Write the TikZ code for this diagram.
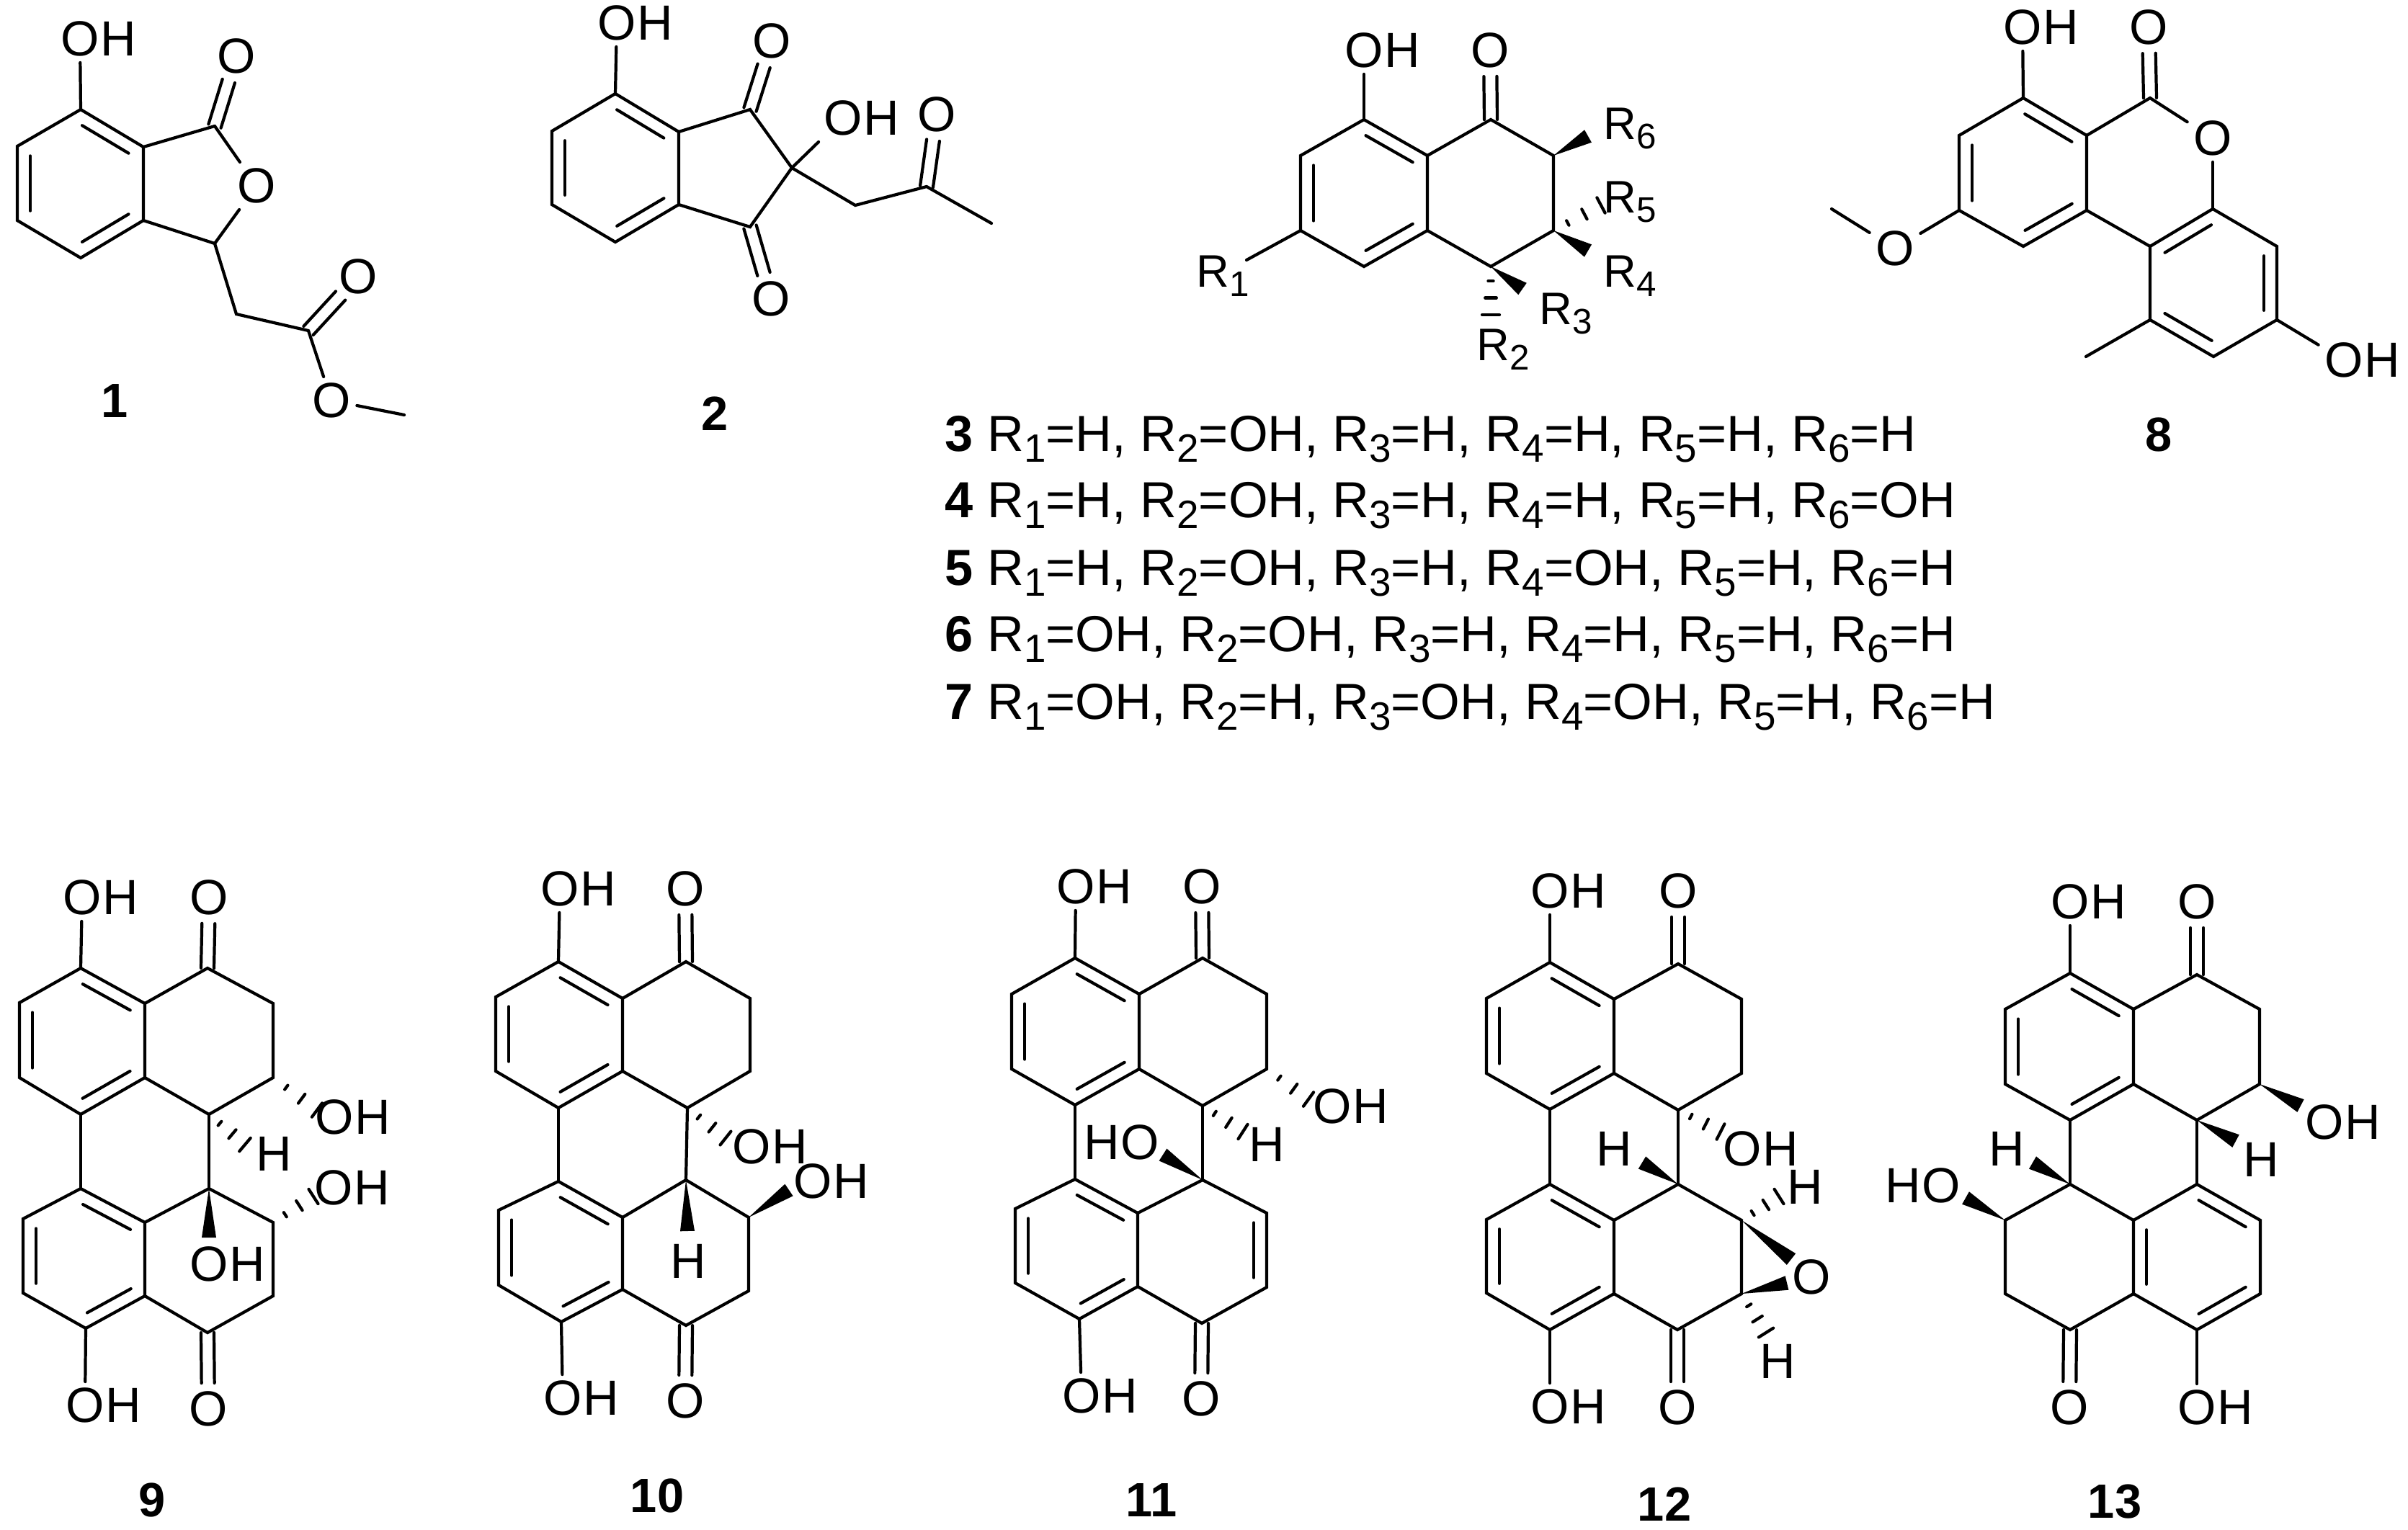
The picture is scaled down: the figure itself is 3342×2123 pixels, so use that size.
\documentclass[tikz,border=0pt]{standalone}
\usepackage{fontspec}
\setmainfont{Liberation Sans}
\usetikzlibrary{calc}

% inner line of a ring double bond, on the left of a->b
\newcommand{\inbond}[2]{\draw[bond] ($(#1)!0.13!(#2)!0.18cm!90:(#2)$) -- ($(#1)!0.87!(#2)!0.18cm!90:(#2)$);}
\newcommand{\oxobond}[2]{\draw[bond, shorten >=0.36cm] ($(#1)!0.09cm!90:(#2)$) -- ($(#2)!0.09cm!-90:(#1)$);
  \draw[bond, shorten >=0.36cm] ($(#1)!0.09cm!-90:(#2)$) -- ($(#2)!0.09cm!90:(#1)$);}
\newcommand{\wedgebond}[2]{\fill (#1) -- ($(#2)!0.1cm!90:(#1)$) -- ($(#2)!0.1cm!-90:(#1)$) -- cycle;}
\newcommand{\hashbond}[2]{\foreach \t in {0.3,0.65,1}
  \draw[bond] ($(#1)!\t!(#2)!\t*0.12cm!90:(#1)$) -- ($(#1)!\t!(#2)!\t*0.12cm!-90:(#1)$);}
\newcommand{\rsub}[1]{R\raisebox{-0.22em}{\scalebox{0.78}{#1}}}
% carbon frame shared by 9--13
\newcommand{\tetracycle}[1]{
  \draw[bond] (#1a) -- (#1b) -- (#1c) -- (#1d) -- (#1e) -- (#1f) -- cycle;
  \draw[bond] (#1f) -- (#1g) -- (#1h) -- (#1i) -- (#1j) -- (#1e);
  \draw[bond] (#1d) -- (#1r);
  \draw[bond] (#1j) -- (#1k);
  \draw[bond] (#1r) -- (#1s) -- (#1t) -- (#1u) -- (#1p) -- (#1q) -- cycle;
  \draw[bond] (#1q) -- (#1k) -- (#1l) -- (#1m) -- (#1n) -- (#1p);
  \inbond{#1f}{#1a}
  \inbond{#1b}{#1c}
  \inbond{#1d}{#1e}
}

\begin{document}
\begin{tikzpicture}[
    x=0.01cm, y=-0.01cm,
    bond/.style={line width=1.2pt, line cap=round},
    atom/.style={inner sep=0.08cm, font=\fontsize{19.5}{21}\selectfont},
    oh/.style={atom, label={[atom, xshift=-0.16cm]east:H}},
    ho/.style={atom, label={[atom, xshift=0.16cm]west:H}},
    rgroup/.style={inner sep=0pt, anchor=base west, font=\fontsize{18}{20}\selectfont},
    subst/.style={inner sep=0pt, anchor=base west, font=\fontsize{20}{22}\selectfont},
    numlabel/.style={inner sep=0pt, font=\fontsize{19}{21}\selectfont\bfseries}
]
\useasboundingbox (0,0) rectangle (3342,2123);

% compound 1
\foreach \n/\x/\y in {a/112/152, b/24/203, c/24/306, d/112/358, e/199/306, f/199/204, g/298/175, h/298/338, i/328/436, j/428/459, k/561/576}
  \coordinate (1\n) at (\x,\y);
\node[oh] (1oh) at (111,54) {O};
\node[atom] (1oa) at (328,78) {O};
\node[atom] (1ob) at (356,258) {O};
\node[atom] (1oc) at (497,384) {O};
\node[atom] (1od) at (460,556) {O};
\node[numlabel] (1num) at (159,556) {1};
\draw[bond] (1a) -- (1b) -- (1c) -- (1d) -- (1e) -- (1f) -- cycle;
\draw[bond] (1f) -- (1g);
\draw[bond] (1e) -- (1h) -- (1i) -- (1j);
\draw[bond] (1g) -- (1ob);
\draw[bond] (1ob) -- (1h);
\draw[bond] (1a) -- (1oh);
\draw[bond] (1j) -- (1od);
\draw[bond] (1od) -- (1k);
\inbond{1f}{1a}
\inbond{1b}{1c}
\inbond{1d}{1e}
\oxobond{1g}{1oa}
\oxobond{1j}{1oc}

% compound 2
\foreach \n/\x/\y in {a/854/130, b/766/182, c/766/284, d/854/336, e/942/284, f/942/183, g/1041/152, h/1041/315, i/1099/233, j/1187/285, k/1286/259, l/1376/310}
  \coordinate (2\n) at (\x,\y);
\node[oh] (2oh) at (856,32) {O};
\node[oh] (2ohb) at (1170,164) {O};
\node[atom] (2oa) at (1071,57) {O};
\node[atom] (2ob) at (1070,415) {O};
\node[atom] (2oc) at (1300,159) {O};
\node[numlabel] (2num) at (992,574) {2};
\draw[bond] (2a) -- (2b) -- (2c) -- (2d) -- (2e) -- (2f) -- cycle;
\draw[bond] (2f) -- (2g) -- (2i) -- (2h) -- (2e);
\draw[bond] (2i) -- (2j) -- (2k) -- (2l);
\draw[bond] (2a) -- (2oh);
\draw[bond] (2i) -- (2ohb);
\inbond{2f}{2a}
\inbond{2b}{2c}
\inbond{2d}{2e}
\oxobond{2g}{2oa}
\oxobond{2h}{2ob}
\oxobond{2k}{2oc}

% compounds 3--7
\foreach \n/\x/\y in {a/1893/166, b/1805/216, c/1805/320, d/1893/370, e/1981/320, f/1981/216, g/2069/166, h/2156/216, i/2156/320, j/2069/370, r1/1730/361, r2/2069/437, r3/2113/401, r4/2204/348, r5/2222/285, r6/2204/189}
  \coordinate (3\n) at (\x,\y);
\node[oh] (3oh) at (1893,70) {O};
\node[atom] (3oa) at (2068,70) {O};
\node[rgroup] (3ra) at (1660,398) {\rsub{1}};
\node[rgroup] (3rb) at (2049,500) {\rsub{2}};
\node[rgroup] (3rc) at (2136,450) {\rsub{3}};
\node[rgroup] (3rd) at (2225,398) {\rsub{4}};
\node[rgroup] (3re) at (2225,295) {\rsub{5}};
\node[rgroup] (3rf) at (2225,193) {\rsub{6}};
\draw[bond] (3a) -- (3b) -- (3c) -- (3d) -- (3e) -- (3f) -- cycle;
\draw[bond] (3f) -- (3g) -- (3h) -- (3i) -- (3j) -- (3e);
\draw[bond] (3a) -- (3oh);
\draw[bond] (3c) -- (3r1);
\inbond{3f}{3a}
\inbond{3b}{3c}
\inbond{3d}{3e}
\oxobond{3g}{3oa}
\wedgebond{3h}{3r6}
\hashbond{3i}{3r5}
\wedgebond{3i}{3r4}
\wedgebond{3j}{3r3}
\hashbond{3j}{3r2}
\node[subst] (3list) at (1311,626) {\textbf{3} \rsub{1}=H, \rsub{2}=OH, \rsub{3}=H, \rsub{4}=H, \rsub{5}=H, \rsub{6}=H};
\node[subst] (4list) at (1311,718) {\textbf{4} \rsub{1}=H, \rsub{2}=OH, \rsub{3}=H, \rsub{4}=H, \rsub{5}=H, \rsub{6}=OH};
\node[subst] (5list) at (1311,812) {\textbf{5} \rsub{1}=H, \rsub{2}=OH, \rsub{3}=H, \rsub{4}=OH, \rsub{5}=H, \rsub{6}=H};
\node[subst] (6list) at (1311,904) {\textbf{6} \rsub{1}=OH, \rsub{2}=OH, \rsub{3}=H, \rsub{4}=H, \rsub{5}=H, \rsub{6}=H};
\node[subst] (7list) at (1311,998) {\textbf{7} \rsub{1}=OH, \rsub{2}=H, \rsub{3}=OH, \rsub{4}=OH, \rsub{5}=H, \rsub{6}=H};

% compound 8
\foreach \n/\x/\y in {a/2808/136, b/2719/188, c/2719/292, d/2808/342, e/2896/292, f/2896/188, g/2984/136, h/3071/290, i/2984/342, j/2984/444, k/3072/495, l/3160/444, m/3160/342, n/2895/495, p/2542/290}
  \coordinate (8\n) at (\x,\y);
\node[oh] (8oh) at (2807,38) {O};
\node[atom] (8oa) at (2982,38) {O};
\node[atom] (8ob) at (3071,192) {O};
\node[atom] (8oc) at (2630,345) {O};
\node[oh] (8ohb) at (3253,500) {O};
\node[numlabel] (8num) at (2996,603) {8};
\draw[bond] (8a) -- (8b) -- (8c) -- (8d) -- (8e) -- (8f) -- cycle;
\draw[bond] (8f) -- (8g) -- (8ob);
\draw[bond] (8ob) -- (8h);
\draw[bond] (8e) -- (8i);
\draw[bond] (8h) -- (8i) -- (8j) -- (8k) -- (8l) -- (8m) -- cycle;
\draw[bond] (8j) -- (8n);
\draw[bond] (8a) -- (8oh);
\draw[bond] (8c) -- (8oc);
\draw[bond] (8oc) -- (8p);
\draw[bond] (8l) -- (8ohb);
\inbond{8f}{8a}
\inbond{8b}{8c}
\inbond{8d}{8e}
\inbond{8h}{8i}
\inbond{8j}{8k}
\inbond{8l}{8m}
\oxobond{8g}{8oa}

% compound 9
\foreach \n/\x/\y in {a/112/1344, b/27/1392, c/27/1496, d/112/1547, e/201/1496, f/201/1393, g/288/1344, h/379/1393, i/379/1496, j/290/1547, k/290/1650, l/379/1697, m/379/1799, n/288/1850, p/201/1799, q/201/1697, r/112/1650, s/32/1692, t/32/1795, u/119/1844, v/440/1541, w/340/1589, y/435/1661, z/290/1718}
  \coordinate (9\n) at (\x,\y);
\tetracycle{9}
\inbond{9q}{9r}
\inbond{9s}{9t}
\inbond{9u}{9p}
\node[oh] (9oh) at (114,1246) {O};
\node[atom] (9oa) at (290,1246) {O};
\node[oh] (9ohb) at (464,1551) {O};
\node[atom] (9h) at (380,1602) {H};
\node[oh] (9ohc) at (463,1649) {O};
\node[oh] (9ohd) at (290,1755) {O};
\node[oh] (9ohe) at (118,1951) {O};
\node[atom] (9ob) at (289,1956) {O};
\node[numlabel] (9num) at (211,2082) {9};
\draw[bond] (9a) -- (9oh);
\draw[bond] (9u) -- (9ohe);
\oxobond{9g}{9oa}
\oxobond{9n}{9ob}
\hashbond{9i}{9v}
\hashbond{9j}{9w}
\hashbond{9l}{9y}
\wedgebond{9k}{9z}

% compound 10
\foreach \n/\x/\y in {a/775/1335, b/688/1384, c/688/1487, d/775/1538, e/864/1487, f/864/1386, g/952/1335, h/1041/1386, i/1041/1487, j/954/1538, k/952/1638, l/1039/1690, m/1039/1792, n/952/1840, p/864/1790, q/864/1690, r/775/1640, s/692/1680, t/692/1784, u/779/1835, v/1007/1580, w/954/1709, y/1095/1652}
  \coordinate (10\n) at (\x,\y);
\tetracycle{10}
\inbond{10q}{10r}
\inbond{10s}{10t}
\inbond{10u}{10p}
\node[oh] (10oh) at (777,1234) {O};
\node[atom] (10oa) at (951,1234) {O};
\node[oh] (10ohb) at (1043,1592) {O};
\node[oh] (10ohc) at (1128,1640) {O};
\node[atom] (10h) at (955,1751) {H};
\node[oh] (10ohd) at (781,1941) {O};
\node[atom] (10ob) at (951,1945) {O};
\node[numlabel] (10num) at (912,2076) {10};
\draw[bond] (10a) -- (10oh);
\draw[bond] (10u) -- (10ohd);
\oxobond{10g}{10oa}
\oxobond{10n}{10ob}
\hashbond{10j}{10v}
\wedgebond{10k}{10w}
\wedgebond{10l}{10y}

% compound 11
\foreach \n/\x/\y in {a/1492/1330, b/1404/1380, c/1404/1484, d/1492/1534, e/1581/1484, f/1581/1380, g/1669/1330, h/1758/1380, i/1758/1484, j/1669/1535, k/1669/1638, l/1758/1684, m/1758/1787, n/1668/1837, p/1579/1786, q/1579/1684, r/1492/1637, s/1409/1678, t/1409/1781, u/1498/1831, v/1816/1526, w/1725/1571, y/1614/1603}
  \coordinate (11\n) at (\x,\y);
\tetracycle{11}
\inbond{11q}{11r}
\inbond{11s}{11t}
\inbond{11u}{11p}
\inbond{11m}{11l}
\node[oh] (11oh) at (1493,1231) {O};
\node[atom] (11oa) at (1668,1231) {O};
\node[oh] (11ohb) at (1849,1536) {O};
\node[atom] (11h) at (1758,1589) {H};
\node[ho] (11ohc) at (1582,1586) {O};
\node[oh] (11ohd) at (1501,1938) {O};
\node[atom] (11ob) at (1667,1942) {O};
\node[numlabel] (11num) at (1598,2082) {11};
\draw[bond] (11a) -- (11oh);
\draw[bond] (11u) -- (11ohd);
\oxobond{11g}{11oa}
\oxobond{11n}{11ob}
\hashbond{11i}{11v}
\hashbond{11j}{11w}
\wedgebond{11k}{11y}

% compound 12
\foreach \n/\x/\y in {a/2151/1336, b/2063/1386, c/2063/1490, d/2151/1540, e/2240/1490, f/2240/1387, g/2329/1338, h/2417/1387, i/2417/1490, j/2329/1541, k/2329/1644, l/2417/1694, m/2417/1796, n/2328/1846, p/2240/1796, q/2240/1694, r/2151/1644, s/2063/1693, t/2063/1795, u/2151/1846, v/2388/1571, w/2279/1614, x/2469/1661, y/2486/1748, z/2480/1781, zz/2451/1850}
  \coordinate (12\n) at (\x,\y);
\tetracycle{12}
\inbond{12q}{12r}
\inbond{12s}{12t}
\inbond{12u}{12p}
\node[oh] (12oh) at (2151,1237) {O};
\node[atom] (12oa) at (2329,1237) {O};
\node[oh] (12ohb) at (2418,1595) {O};
\node[atom] (12ha) at (2240,1595) {H};
\node[atom] (12hb) at (2505,1648) {H};
\node[atom] (12oc) at (2514,1773) {O};
\node[atom] (12hc) at (2467,1890) {H};
\node[oh] (12ohd) at (2151,1953) {O};
\node[atom] (12ob) at (2328,1954) {O};
\node[numlabel] (12num) at (2310,2088) {12};
\draw[bond] (12a) -- (12oh);
\draw[bond] (12u) -- (12ohd);
\oxobond{12g}{12oa}
\oxobond{12n}{12ob}
\hashbond{12j}{12v}
\wedgebond{12k}{12w}
\hashbond{12l}{12x}
\wedgebond{12l}{12y}
\wedgebond{12m}{12z}
\hashbond{12m}{12zz}

% compound 13
\foreach \n/\x/\y in {a/2873/1351, b/2783/1401, c/2783/1505, d/2873/1555, e/2961/1505, f/2961/1401, g/3049/1353, h/3136/1401, i/3136/1505, j/3049/1555, k/3049/1644, l/3137/1694, m/3137/1796, n/3049/1846, p/2961/1796, q/2961/1694, r/2873/1644, s/2783/1694, t/2783/1796, u/2873/1846, v/3193/1535, w/3103/1584, x/2821/1614, y/2728/1663}
  \coordinate (13\n) at (\x,\y);
\tetracycle{13}
\inbond{13l}{13k}
\inbond{13q}{13p}
\inbond{13n}{13m}
\node[oh] (13oh) at (2873,1252) {O};
\node[atom] (13oa) at (3049,1252) {O};
\node[oh] (13ohb) at (3226,1558) {O};
\node[atom] (13ha) at (3138,1610) {H};
\node[atom] (13hb) at (2785,1595) {H};
\node[ho] (13ohc) at (2694,1646) {O};
\node[atom] (13ob) at (2872,1954) {O};
\node[oh] (13ohd) at (3049,1954) {O};
\node[numlabel] (13num) at (2935,2085) {13};
\draw[bond] (13a) -- (13oh);
\draw[bond] (13n) -- (13ohd);
\oxobond{13g}{13oa}
\oxobond{13u}{13ob}
\wedgebond{13i}{13v}
\wedgebond{13j}{13w}
\wedgebond{13r}{13x}
\wedgebond{13s}{13y}
\end{tikzpicture}
\end{document}
